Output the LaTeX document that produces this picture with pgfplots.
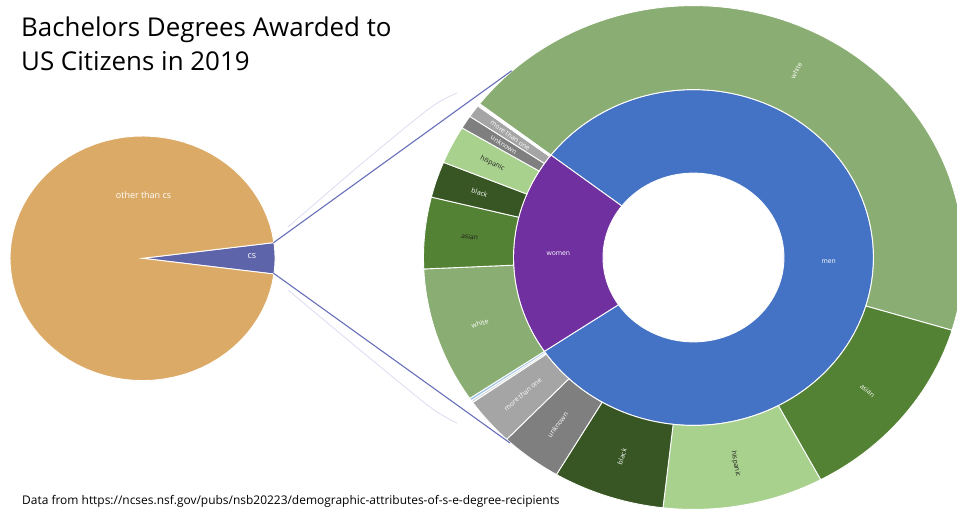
\documentclass[border=0pt]{standalone}
\usepackage{fontspec}
\setmainfont{Open Sans}
\usepackage{pgfplots}
\pgfplotsset{compat=1.18}

\definecolor{cwhite}{HTML}{8AAD73}
\definecolor{casian}{HTML}{548235}
\definecolor{cblack}{HTML}{375623}
\definecolor{chisp}{HTML}{A9D18E}
\definecolor{cunk}{HTML}{7F7F7F}
\definecolor{cmore}{HTML}{A5A5A5}
\definecolor{ctinyA}{HTML}{D4D4D4}
\definecolor{ctinyB}{HTML}{9DC3E6}
\definecolor{cmen}{HTML}{4472C4}
\definecolor{cwomen}{HTML}{7030A0}
\definecolor{cother}{HTML}{DCAA67}
\definecolor{ccs}{HTML}{5D64A9}
\definecolor{cline}{HTML}{6670BA}
\definecolor{cfaint}{HTML}{DCDCF0}
\definecolor{cdark}{HTML}{1E1E1E}

\tikzset{seglab/.style={font=\fontsize{6.8}{7}\selectfont, inner sep=0pt}}

\newif\ifradial
\newcommand\setcenter[3]{\def\CX{#1}\def\CY{#2}\def\KY{#3}}
\newcommand\setring[2]{\def\RA{#1}\def\RB{#2}}
\newcommand\setstart[1]{\xdef\curang{#1}}
% #1 value (percent of all cs degrees), #2 fill colour, #3 label, #4 label colour
\newcommand\seg[4]{%
  \pgfmathsetmacro\sgA{\curang}%
  \pgfmathsetmacro\sgB{\curang-3.6*#1}%
  \edef\doplot{\noexpand\addplot[fill=#2, draw=white, line width=0.9bp,
      samples at={0,1,...,161}]
    ({\CX+ifthenelse(\noexpand\x<80.5,\RB,\RA)*cos(ifthenelse(\noexpand\x<80.5,\sgA+(\sgB-\sgA)*\noexpand\x/80,\sgB-(\sgB-\sgA)*(\noexpand\x-81)/80))},
     {\CY+\KY*ifthenelse(\noexpand\x<80.5,\RB,\RA)*sin(ifthenelse(\noexpand\x<80.5,\sgA+(\sgB-\sgA)*\noexpand\x/80,\sgB-(\sgB-\sgA)*(\noexpand\x-81)/80))}) -- cycle;}%
  \doplot
  \xdef\curang{\sgB}%
  \if\relax\detokenize{#3}\relax\else
    \pgfmathsetmacro\sgM{(\sgA+\sgB)/2}%
    \pgfmathsetmacro\sgN{mod(\sgM+900,360)-180}%
    \ifradial
      \pgfmathsetmacro\sgR{ifthenelse(abs(\sgN)>90,\sgN+180,\sgN)}%
    \else
      \def\sgR{0}%
    \fi
    \pgfmathsetmacro\sgL{(\RA+\RB)/2}%
    \pgfmathsetmacro\sgX{\CX+\sgL*cos(\sgM)}%
    \pgfmathsetmacro\sgY{\CY+\KY*\sgL*sin(\sgM)}%
    \edef\donode{\noexpand\node[seglab, text=#4, rotate=\sgR] at (axis cs:\sgX,\sgY) {#3};}%
    \donode
  \fi
}

\begin{document}
\begin{tikzpicture}
\begin{axis}[scale only axis, width=957bp, height=510bp,
  xmin=0, xmax=957, ymin=0, ymax=510, hide axis, clip=true,
  at={(0,0)}, anchor=south west]

% ---------- left pie: all bachelors degrees ----------
\setcenter{142.5}{251.7}{0.923}
\setring{0}{132.5}
\setstart{7.38}
\radialfalse
\seg{4.1}{ccs}{}{white}
\seg{95.9}{cother}{}{white}
\node[font=\fontsize{9}{10}\selectfont, text=white] at (axis cs:143.5,315) {other than cs};
\node[font=\fontsize{9}{10}\selectfont, text=white] at (axis cs:252,253.5) {cs};

% faint guide strokes
\addplot[cfaint, line width=0.8bp, smooth] coordinates {(288,283) (360,345) (430,402) (457,417)};
\addplot[cfaint, line width=0.8bp, smooth] coordinates {(288,220) (360,160) (430,103) (457,87)};

% ---------- sunburst: cs degrees ----------
\setcenter{693.5}{252.5}{0.933}
% inner ring: sex
\setring{90.5}{180}
\setstart{142.4}
\radialfalse
\seg{80.11}{cmen}{men}{white}
\seg{19.89}{cwomen}{women}{white}
% outer ring: race / ethnicity
\setring{180}{270}
\setstart{142.4}
\radialtrue
% men
\seg{44.22}{cwhite}{white}{white}
\seg{12.53}{casian}{asian}{white}
\seg{9.61}{chisp}{hispanic}{cdark}
\seg{6.67}{cblack}{black}{white}
\seg{3.69}{cunk}{unknown}{white}
\seg{3.08}{cmore}{more than one}{white}
\seg{0.14}{ctinyA}{}{white}
\seg{0.17}{ctinyB}{}{white}
% women
\seg{8.72}{cwhite}{white}{white}
\seg{4.58}{casian}{asian}{cdark}
\seg{2.31}{cblack}{black}{white}
\seg{2.44}{chisp}{hispanic}{cdark}
\seg{0.86}{cunk}{unknown}{white}
\seg{0.81}{cmore}{more than one}{white}
\seg{0.09}{ctinyA}{}{white}
\seg{0.08}{ctinyB}{}{white}

% connector lines from the cs slice
\addplot[cline, line width=1.1bp] coordinates {(273.5,267.3) (511.7,439.3)};
\addplot[cline, line width=1.1bp] coordinates {(273.5,236.8) (510,67)};

% ---------- texts ----------
\node[anchor=base west, inner sep=0pt, font=\fontsize{26}{30}\selectfont] at (axis cs:21,473.3) {Bachelors Degrees Awarded to};
\node[anchor=base west, inner sep=0pt, font=\fontsize{26}{30}\selectfont] at (axis cs:21,439.3) {US Citizens in 2019};
\node[anchor=base west, inner sep=0pt, font=\fontsize{12}{14}\selectfont] at (axis cs:22,6) {Data from https://ncses.nsf.gov/pubs/nsb20223/demographic-attributes-of-s-e-degree-recipients};
\end{axis}
\pgfresetboundingbox
\useasboundingbox (0,0) rectangle (957bp,510bp);
\end{tikzpicture}
\end{document}
